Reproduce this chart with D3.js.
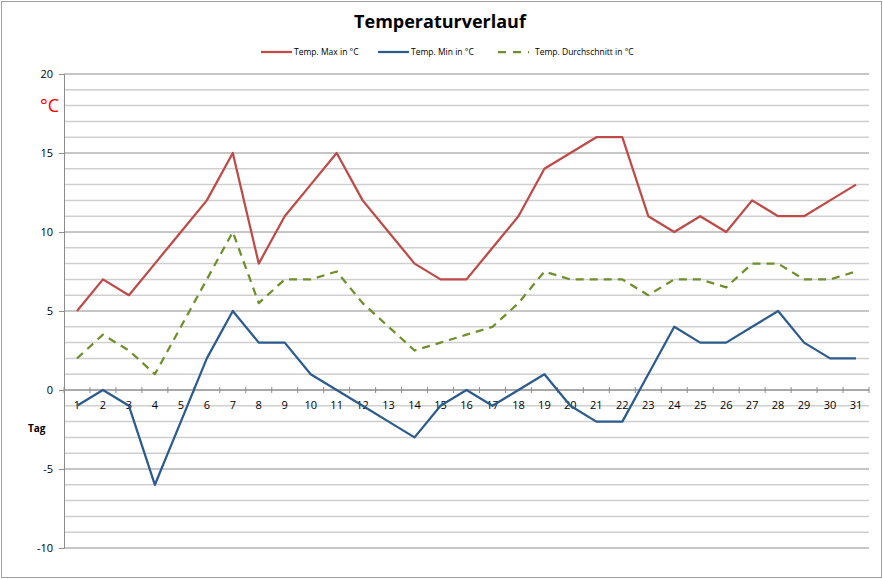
<!DOCTYPE html>
<html>
<head>
<meta charset="utf-8">
<title>Temperaturverlauf</title>
<script src="https://cdn.jsdelivr.net/npm/d3@7"></script>
<style>
  body { margin: 0; background: #fff; }
  text { font-family: "Open Sans", "Liberation Sans", sans-serif; }
</style>
</head>
<body>
<div id="chart"></div>
<script>
// Daten
var tage = d3.range(1, 32).map(String);
var tempMax = [5, 7, 6, 8, 10, 12, 15, 8, 11, 13, 15, 12, 10, 8, 7, 7, 9, 11, 14, 15, 16, 16, 11, 10, 11, 10, 12, 11, 11, 12, 13];
var tempMin = [-1, 0, -1, -6, -2, 2, 5, 3, 3, 1, 0, -1, -2, -3, -1, 0, -1, 0, 1, -1, -2, -2, 1, 4, 3, 3, 4, 5, 3, 2, 2];
var tempAvg = [2, 3.5, 2.5, 1, 4, 7, 10, 5.5, 7, 7, 7.5, 5.5, 4, 2.5, 3, 3.5, 4, 5.5, 7.5, 7, 7, 7, 6, 7, 7, 6.5, 8, 8, 7, 7, 7.5];
var yTicks = [-10, -5, 0, 5, 10, 15, 20];

var series = [
  { name: "Temp. Max in °C", values: tempMax, color: "#be4b48", dash: null },
  { name: "Temp. Min in °C", values: tempMin, color: "#2c5b8e", dash: null },
  { name: "Temp. Durchschnitt in °C", values: tempAvg, color: "#6f8f2c", dash: "8,6" }
];

var W = 883, H = 579;
var plot = { left: 64, right: 869, top: 74, bottom: 548 };

var svg = d3.select("#chart").append("svg")
  .attr("width", W).attr("height", H);

// Rahmen
svg.append("rect")
  .attr("x", 1.5).attr("y", 1.5)
  .attr("width", W - 3).attr("height", H - 3)
  .attr("fill", "#fff").attr("stroke", "#a0a0a0").attr("stroke-width", 1);

var x = d3.scaleBand().domain(tage).range([plot.left, plot.right]);
var y = d3.scaleLinear().domain([-10, 20]).range([plot.bottom, plot.top]);

// Gitternetz (Hilfslinien je 1 Grad)
svg.append("g").selectAll("line")
  .data(d3.range(-10, 21).filter(function (d) { return d % 5 !== 0; }))
  .enter().append("line")
    .attr("x1", plot.left).attr("x2", plot.right)
    .attr("y1", function (d) { return y(d); })
    .attr("y2", function (d) { return y(d); })
    .attr("stroke", "#cfcfcf").attr("stroke-width", 1.5);

svg.append("g").selectAll("line")
  .data(yTicks)
  .enter().append("line")
    .attr("x1", plot.left).attr("x2", plot.right)
    .attr("y1", function (d) { return y(d); })
    .attr("y2", function (d) { return y(d); })
    .attr("stroke", "#8c8c8c").attr("stroke-width", 1);

// Y-Achse
var yAxis = svg.append("g")
  .attr("transform", "translate(" + plot.left + ",0)")
  .call(d3.axisLeft(y).tickValues(yTicks).tickSize(5).tickPadding(6)
    .tickFormat(function (d) { return String(d); }));
yAxis.select(".domain").attr("stroke", "#8c8c8c");
yAxis.selectAll(".tick line").attr("stroke", "#8c8c8c");
yAxis.selectAll(".tick text")
  .style("font-size", "11px").attr("fill", "#000");

// X-Achse bei 0
var xAxisG = svg.append("g").attr("transform", "translate(0," + y(0) + ")");
xAxisG.append("line")
  .attr("x1", plot.left).attr("x2", plot.right)
  .attr("stroke", "#8c8c8c");
xAxisG.selectAll(".grenze")
  .data(tage.concat(["end"]))
  .enter().append("line")
    .attr("class", "grenze")
    .attr("x1", function (d, i) { return plot.left + i * x.bandwidth(); })
    .attr("x2", function (d, i) { return plot.left + i * x.bandwidth(); })
    .attr("y1", -3).attr("y2", 3)
    .attr("stroke", "#8c8c8c");
xAxisG.selectAll(".lbl")
  .data(tage)
  .enter().append("text")
    .attr("class", "lbl")
    .attr("x", function (d) { return x(d) + x.bandwidth() / 2; })
    .attr("y", 19)
    .attr("text-anchor", "middle")
    .style("font-size", "11px")
    .text(function (d) { return d; });

// Linien
var line = d3.line()
  .x(function (d, i) { return x(tage[i]) + x.bandwidth() / 2; })
  .y(function (d) { return y(d); });

series.forEach(function (s) {
  svg.append("path")
    .datum(s.values)
    .attr("fill", "none")
    .attr("stroke", s.color)
    .attr("stroke-width", 2.25)
    .attr("stroke-linejoin", "round")
    .attr("stroke-dasharray", s.dash)
    .attr("d", line);
});

// Titel
svg.append("text")
  .attr("x", 440).attr("y", 28)
  .attr("text-anchor", "middle")
  .style("font-size", "18px").style("font-weight", "bold")
  .text("Temperaturverlauf");

// Einheit und Achsenbeschriftung
svg.append("text")
  .attr("x", 40).attr("y", 112)
  .attr("fill", "#ff0000")
  .style("font-size", "18px")
  .text("°C");

svg.append("text")
  .attr("x", 28).attr("y", 432)
  .style("font-size", "10px").style("font-weight", "bold")
  .text("Tag");

// Legende
var legendX = [261, 378, 498];
var legend = svg.append("g");
series.forEach(function (s, i) {
  legend.append("line")
    .attr("x1", legendX[i]).attr("x2", legendX[i] + 31)
    .attr("y1", 52).attr("y2", 52)
    .attr("stroke", s.color).attr("stroke-width", 2.25)
    .attr("stroke-dasharray", s.dash ? "8,7" : null);
  legend.append("text")
    .attr("x", legendX[i] + 33 + (s.dash ? 4 : 0)).attr("y", 55)
    .style("font-size", "8.5px")
    .text(s.name);
});
</script>
</body>
</html>
